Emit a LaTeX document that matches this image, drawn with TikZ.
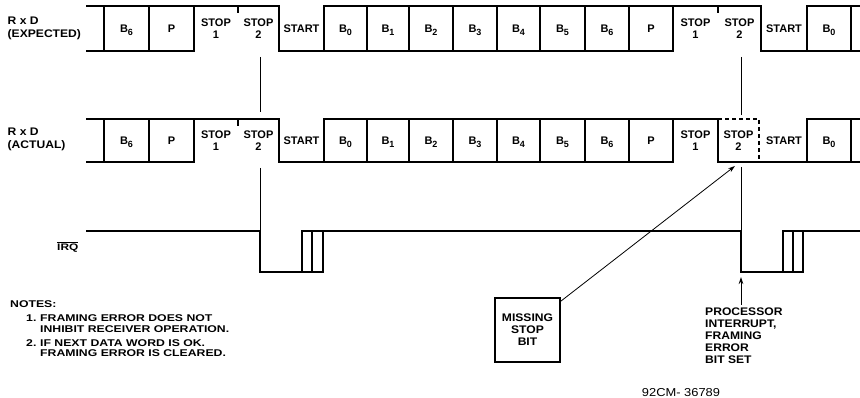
\documentclass[tikz,border=0pt]{standalone}
\usepackage{fontspec}
\setmainfont{Liberation Sans}
\newfontfamily\widefont{Liberation Sans}[FakeStretch=1.1]
\newfontfamily\notefont{Liberation Sans}[FakeStretch=1.25]
\newfontfamily\codefont{Liberation Sans}[FakeStretch=1.12]
\newcommand{\bsub}[1]{\raisebox{-2.8pt}{\fontsize{9}{9}\selectfont #1}}
\usetikzlibrary{arrows.meta}
\begin{document}
\begin{tikzpicture}[x=1pt,y=-1pt,
  wave/.style={line width=1.6pt, line cap=rect, line join=miter},
  dashwave/.style={line width=1.4pt, dash pattern=on 4pt off 3pt},
  guide/.style={line width=0.7pt},
  ptr/.style={line width=0.8pt, -{Stealth[length=7pt,width=4.5pt]}},
  lbl/.style={inner sep=0pt, font=\fontsize{11}{12}\selectfont\bfseries, text height=8pt, text depth=0pt},
  lbltwo/.style={inner sep=0pt, align=center, font=\fontsize{11}{12}\selectfont\bfseries},
  side/.style={inner sep=0pt, anchor=north west, align=left, font=\widefont\fontsize{11}{13}\selectfont\bfseries},
  note/.style={inner sep=0pt, anchor=base west, font=\notefont\fontsize{9.8}{10}\selectfont\bfseries},
  callout/.style={inner sep=0pt, align=left, anchor=north west, font=\widefont\fontsize{11}{12}\selectfont\bfseries}
]
\fill[white] (0,0) rectangle (860,398);
\useasboundingbox (0,0) rectangle (860,398);

% ---------- Row 1: expected ----------
\draw[wave] (87,6) -- (279,6) (324,6) -- (761,6) (807,6) -- (860,6);
\draw[wave] (87,51) -- (194,51) (279,51) -- (673,51) (761,51) -- (860,51);
\foreach \x in {104,149,194,279,324,367,409,453,497,540,585,629,673,761,807,851}
  \draw[wave] (\x,6) -- (\x,51);
\draw[wave] (238,6) -- (238,12);
\draw[wave] (718,6) -- (718,12);

% ---------- Row 2: actual ----------
\draw[wave] (87,119) -- (279,119) (324,119) -- (718,119) (807,119) -- (860,119);
\draw[wave] (87,162) -- (194,162) (279,162) -- (673,162) (718,162) -- (860,162);
\foreach \x in {104,149,194,279,324,367,409,453,497,540,585,629,673,718,807,851}
  \draw[wave] (\x,119) -- (\x,162);
\draw[wave] (238,119) -- (238,125);
\draw[dashwave] (718,119) -- (759,119) -- (759,162);

% ---------- IRQ ----------
\draw[wave] (87,231) -- (260,231) -- (260,272) -- (323,272) -- (323,231) -- (302,231) -- (302,272);
\draw[wave] (312,231) -- (312,272);
\draw[wave] (302,231) -- (741,231) -- (741,272) -- (803,272) -- (803,231) -- (783,231) -- (783,272);
\draw[wave] (793,231) -- (793,272);
\draw[wave] (783,231) -- (860,231);

% ---------- guide lines ----------
\draw[guide] (260,57) -- (260,112);
\draw[guide] (260,168) -- (260,231);
\draw[guide] (741,57) -- (741,115);
\draw[guide] (741,167) -- (741,231);

% ---------- bit labels ----------
\foreach \x/\t [count=\i] in {126.5/B\bsub{6}, 171.5/P, 301.5/START, 345.5/B\bsub{0},
  388/B\bsub{1}, 431/B\bsub{2}, 475/B\bsub{3}, 518.5/B\bsub{4},
  562.5/B\bsub{5}, 607/B\bsub{6}, 651/P, 784/START, 829/B\bsub{0}}
{
  \node[lbl] (ra\i) at (\x,28.5) {\t};
  \node[lbl] (rb\i) at (\x,140.5) {\t};
}
\node[lbltwo] (ras1) at (216,29) {STOP\\1};
\node[lbltwo] (ras2) at (258.5,29) {STOP\\2};
\node[lbltwo] (ras3) at (695.5,29) {STOP\\1};
\node[lbltwo] (ras4) at (739.5,29) {STOP\\2};
\node[lbltwo] (rbs1) at (216,141) {STOP\\1};
\node[lbltwo] (rbs2) at (258.5,141) {STOP\\2};
\node[lbltwo] (rbs3) at (695.5,141) {STOP\\1};
\node[lbltwo] (rbs4) at (738.5,141) {STOP\\2};

% ---------- side labels ----------
\node[side] (rx1) at (7.5,17) {R x D\\(EXPECTED)};
\node[side] (rx2) at (7.5,128) {R x D\\(ACTUAL)};
\node[anchor=base west, inner sep=0pt, font=\notefont\fontsize{9.5}{10}\selectfont\bfseries] (irq) at (57,250.5) {$\overline{\mbox{IRQ}}$};

% ---------- notes ----------
\node[note] (notes) at (10,308) {NOTES:};
\node[note] (n1) at (26,322) {1.};
\node[note] (n1a) at (40,322) {FRAMING ERROR DOES NOT};
\node[note] (n1b) at (40,333) {INHIBIT RECEIVER OPERATION.};
\node[note] (n2) at (26,346) {2.};
\node[note] (n2a) at (40,346) {IF NEXT DATA WORD IS OK.};
\node[note] (n2b) at (40,356) {FRAMING ERROR IS CLEARED.};

% ---------- callouts ----------
\node[draw, line width=1.6pt, minimum width=65pt, minimum height=64pt, inner sep=0pt, align=center,
  font=\widefont\fontsize{11}{12}\selectfont\bfseries] (msb) at (527.5,330) {MISSING\\STOP\\BIT};
\coordinate (stopa) at (735,166);
\draw[ptr] ([yshift=-4pt]msb.north east) -- (stopa);

\node[callout] (proc) at (705,308) {PROCESSOR\\INTERRUPT,\\FRAMING\\ERROR\\BIT SET};
\coordinate (irqa) at (741,277);
\draw[ptr] ([xshift=36pt,yshift=3pt]proc.north west) -- (irqa);

\node[anchor=base, inner sep=0pt, font=\codefont\fontsize{11.5}{12}\selectfont] (code) at (681,396) {92CM- 36789};
\end{tikzpicture}
\end{document}
